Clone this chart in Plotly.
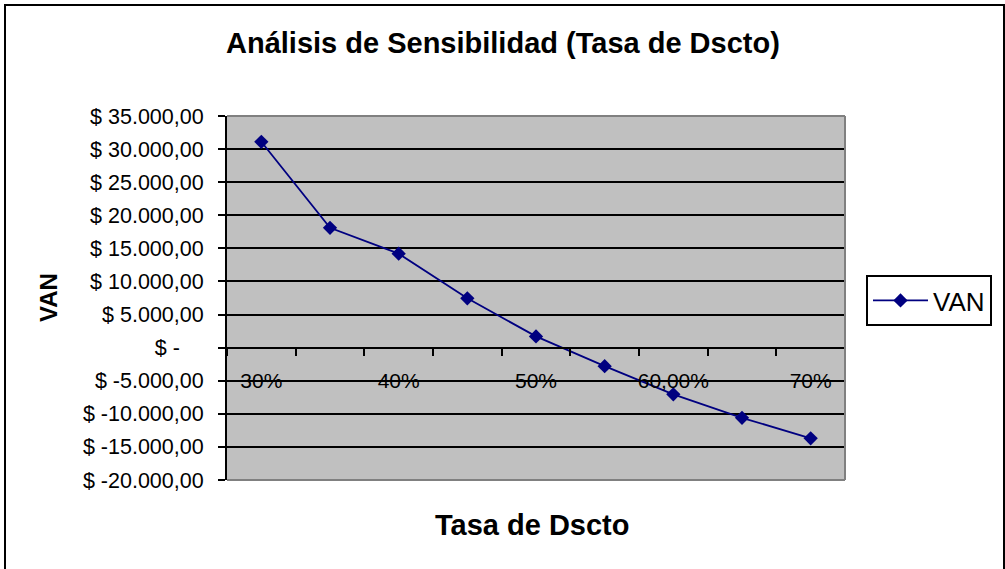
import plotly.graph_objects as go

# ---- data ----
categories = ["30%", "35%", "40%", "45%", "50%", "55%", "60,00%", "65%", "70%"]
van_values = [31100, 18100, 14200, 7450, 1700, -2800, -7050, -10600, -13700]
series_name = "VAN"
title_text = "Análisis de Sensibilidad (Tasa de Dscto)"
x_title = "Tasa de Dscto"
y_title = "VAN"
ytick_vals = [35000, 30000, 25000, 20000, 15000, 10000, 5000, 0,
              -5000, -10000, -15000, -20000]
ytick_text = ["$ 35.000,00", "$ 30.000,00", "$ 25.000,00", "$ 20.000,00",
              "$ 15.000,00", "$ 10.000,00", "$ 5.000,00", "$ -\u00a0\u00a0\u00a0\u00a0",
              "$ -5.000,00", "$ -10.000,00", "$ -15.000,00", "$ -20.000,00"]
y_range = [-20000, 35000]

# ---- layout geometry (pixels) ----
W, H = 1005, 569
L, R, T, B = 227, 845, 116, 480
pw, ph = R - L, B - T

def px(x):
    return (x - L) / pw

def py(y):
    return (B - y) / ph

FONT = "Arial, 'Liberation Sans', sans-serif"
idx = list(range(len(categories)))
label_idx = idx[::2]

fig = go.Figure()
fig.add_trace(go.Scatter(
    x=idx, y=van_values, name=series_name, mode="lines+markers",
    line=dict(color="#000080", width=1.8),
    marker=dict(symbol="diamond", size=11, color="#000080"),
))

zero_pos = (0 - y_range[0]) / (y_range[1] - y_range[0])

fig.update_layout(
    width=W, height=H,
    margin=dict(l=L, r=W - R, t=T, b=H - B, pad=0),
    paper_bgcolor="white",
    plot_bgcolor="#C0C0C0",
    font=dict(family=FONT, color="black"),
    showlegend=True,
    legend=dict(
        x=px(866), y=py(275), xanchor="left", yanchor="top",
        bordercolor="black", borderwidth=2, bgcolor="white",
        font=dict(size=26, family=FONT), itemwidth=55,
        tracegroupgap=0,
    ),
    xaxis=dict(
        range=[-0.5, len(categories) - 0.5],
        anchor="free", position=zero_pos,
        showline=True, linecolor="black", linewidth=2,
        showgrid=False, zeroline=False,
        tickmode="array", tickvals=label_idx,
        ticktext=[categories[i] for i in label_idx],
        ticks="", tickfont=dict(size=21, family=FONT),
        ticklabelstandoff=14,
        minor=dict(tickmode="array",
                   tickvals=[i - 0.5 for i in idx] + [len(categories) - 0.5],
                   ticks="outside", ticklen=7, tickcolor="black", tickwidth=1.5,
                   showgrid=False),
        fixedrange=True,
    ),
    yaxis=dict(
        range=y_range,
        showline=True, linecolor="black", linewidth=2,
        showgrid=True, gridcolor="black", gridwidth=1.6,
        zeroline=False,
        tickmode="array", tickvals=ytick_vals, ticktext=ytick_text,
        ticks="outside", ticklen=7, tickcolor="black", tickwidth=1.5,
        tickfont=dict(size=21.5, family=FONT),
        ticklabelstandoff=10,
        fixedrange=True,
    ),
    annotations=[
        dict(text=title_text, xref="paper", yref="paper",
             x=px(503), y=py(43), xanchor="center", yanchor="middle",
             showarrow=False, font=dict(size=29, family=FONT, weight="bold")),
        dict(text=x_title, xref="paper", yref="paper",
             x=px(532), y=py(525), xanchor="center", yanchor="middle",
             showarrow=False, font=dict(size=29, family=FONT, weight="bold")),
        dict(text=y_title, xref="paper", yref="paper", textangle=-90,
             x=px(48), y=py(298), xanchor="center", yanchor="middle",
             showarrow=False, font=dict(size=24, family=FONT, weight="bold")),
    ],
    shapes=[
        # plot area border (top, right, bottom) in gray
        dict(type="line", xref="paper", yref="paper", x0=0, x1=1, y0=1, y1=1,
             line=dict(color="#808080", width=2), layer="above"),
        dict(type="line", xref="paper", yref="paper", x0=1, x1=1, y0=0, y1=1,
             line=dict(color="#808080", width=2), layer="above"),
        dict(type="line", xref="paper", yref="paper", x0=0, x1=1, y0=0, y1=0,
             line=dict(color="#808080", width=2), layer="above"),
        # outer chart border
        dict(type="rect", xref="paper", yref="paper",
             x0=px(5), x1=px(1004), y0=py(600), y1=py(5),
             line=dict(color="black", width=2), fillcolor="rgba(0,0,0,0)",
             layer="above"),
    ],
)

fig.write_html(
    "out.html",
    config={"displayModeBar": False},
    post_script="document.body.style.margin='0';document.body.style.overflow='hidden';",
)
